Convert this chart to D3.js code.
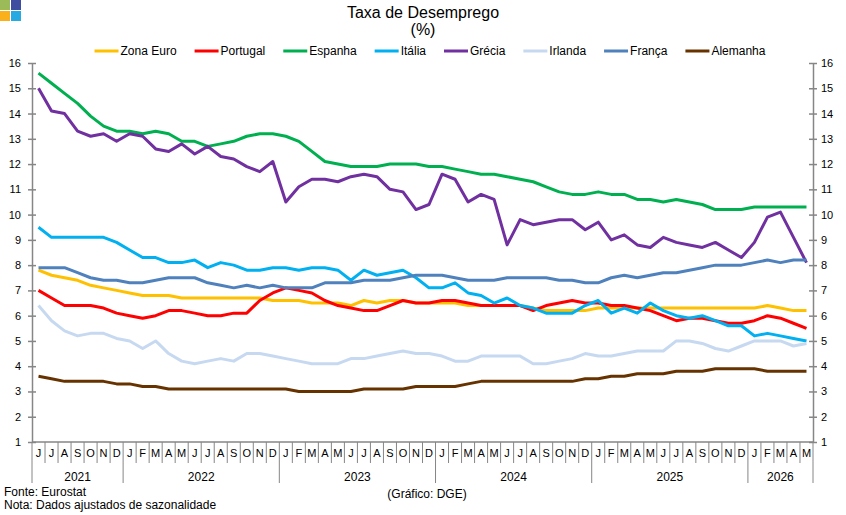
<!DOCTYPE html>
<html>
<head>
<meta charset="utf-8">
<script src="https://cdn.jsdelivr.net/npm/d3@7"></script>
<style>
  body { margin: 0; background: #fff; }
  text { font-family: "Liberation Sans", Arial, sans-serif; fill: #000; }
</style>
</head>
<body>
<svg id="chart" width="846" height="515"></svg>
<script>
// months: Jun 2021 .. May 2026
const years = [2021, 2022, 2023, 2024, 2025, 2026];
const monthLetters = ["J", "F", "M", "A", "M", "J", "J", "A", "S", "O", "N", "D"];
const firstMonth = 5; // June
const nMonths = 60;
const yTicks = [1, 2, 3, 4, 5, 6, 7, 8, 9, 10, 11, 12, 13, 14, 15, 16];

const zonaEuro = [7.8, 7.6, 7.5, 7.4, 7.2, 7.1, 7.0, 6.9, 6.8, 6.8, 6.8, 6.7, 6.7, 6.7, 6.7, 6.7, 6.7, 6.7, 6.6, 6.6,
  6.6, 6.5, 6.5, 6.5, 6.4, 6.6, 6.5, 6.6, 6.6, 6.5, 6.5, 6.5, 6.5, 6.4, 6.4, 6.4, 6.4, 6.4, 6.3, 6.2,
  6.2, 6.2, 6.2, 6.3, 6.3, 6.3, 6.3, 6.3, 6.3, 6.3, 6.3, 6.3, 6.3, 6.3, 6.3, 6.3, 6.4, 6.3, 6.2, 6.2];
const portugal = [7.0, 6.7, 6.4, 6.4, 6.4, 6.3, 6.1, 6.0, 5.9, 6.0, 6.2, 6.2, 6.1, 6.0, 6.0, 6.1, 6.1, 6.6, 6.9, 7.1,
  7.0, 6.9, 6.6, 6.4, 6.3, 6.2, 6.2, 6.4, 6.6, 6.5, 6.5, 6.6, 6.6, 6.5, 6.4, 6.4, 6.4, 6.4, 6.2, 6.4,
  6.5, 6.6, 6.5, 6.5, 6.4, 6.4, 6.3, 6.2, 6.0, 5.8, 5.9, 5.9, 5.8, 5.7, 5.7, 5.8, 6.0, 5.9, 5.7, 5.5];
const espanha = [15.6, 15.2, 14.8, 14.4, 13.9, 13.5, 13.3, 13.3, 13.2, 13.3, 13.2, 12.9, 12.9, 12.7, 12.8, 12.9, 13.1, 13.2, 13.2, 13.1,
  12.9, 12.5, 12.1, 12.0, 11.9, 11.9, 11.9, 12.0, 12.0, 12.0, 11.9, 11.9, 11.8, 11.7, 11.6, 11.6, 11.5, 11.4, 11.3, 11.1,
  10.9, 10.8, 10.8, 10.9, 10.8, 10.8, 10.6, 10.6, 10.5, 10.6, 10.5, 10.4, 10.2, 10.2, 10.2, 10.3, 10.3, 10.3, 10.3, 10.3];
const italia = [9.5, 9.1, 9.1, 9.1, 9.1, 9.1, 8.9, 8.6, 8.3, 8.3, 8.1, 8.1, 8.2, 7.9, 8.1, 8.0, 7.8, 7.8, 7.9, 7.9,
  7.8, 7.9, 7.9, 7.8, 7.4, 7.8, 7.6, 7.7, 7.8, 7.5, 7.1, 7.1, 7.3, 6.9, 6.8, 6.5, 6.7, 6.4, 6.3, 6.1,
  6.1, 6.1, 6.4, 6.6, 6.1, 6.3, 6.1, 6.5, 6.2, 6.0, 5.9, 6.0, 5.8, 5.6, 5.6, 5.2, 5.3, 5.2, 5.1, 5.0];
const grecia = [15.0, 14.1, 14.0, 13.3, 13.1, 13.2, 12.9, 13.2, 13.1, 12.6, 12.5, 12.8, 12.4, 12.7, 12.3, 12.2, 11.9, 11.7, 12.1, 10.5,
  11.1, 11.4, 11.4, 11.3, 11.5, 11.6, 11.5, 11.0, 10.9, 10.2, 10.4, 11.6, 11.4, 10.5, 10.8, 10.6, 8.8, 9.8, 9.6, 9.7,
  9.8, 9.8, 9.4, 9.7, 9.0, 9.2, 8.8, 8.7, 9.1, 8.9, 8.8, 8.7, 8.9, 8.6, 8.3, 8.9, 9.9, 10.1, 9.1, 8.1];
const irlanda = [6.4, 5.8, 5.4, 5.2, 5.3, 5.3, 5.1, 5.0, 4.7, 5.0, 4.5, 4.2, 4.1, 4.2, 4.3, 4.2, 4.5, 4.5, 4.4, 4.3,
  4.2, 4.1, 4.1, 4.1, 4.3, 4.3, 4.4, 4.5, 4.6, 4.5, 4.5, 4.4, 4.2, 4.2, 4.4, 4.4, 4.4, 4.4, 4.1, 4.1,
  4.2, 4.3, 4.5, 4.4, 4.4, 4.5, 4.6, 4.6, 4.6, 5.0, 5.0, 4.9, 4.7, 4.6, 4.8, 5.0, 5.0, 5.0, 4.8, 4.9];
const franca = [7.9, 7.9, 7.9, 7.7, 7.5, 7.4, 7.4, 7.3, 7.3, 7.4, 7.5, 7.5, 7.5, 7.3, 7.2, 7.1, 7.2, 7.1, 7.2, 7.1,
  7.1, 7.1, 7.3, 7.3, 7.3, 7.4, 7.4, 7.4, 7.5, 7.6, 7.6, 7.6, 7.5, 7.4, 7.4, 7.4, 7.5, 7.5, 7.5, 7.5,
  7.4, 7.4, 7.3, 7.3, 7.5, 7.6, 7.5, 7.6, 7.7, 7.7, 7.8, 7.9, 8.0, 8.0, 8.0, 8.1, 8.2, 8.1, 8.2, 8.2];
const alemanha = [3.6, 3.5, 3.4, 3.4, 3.4, 3.4, 3.3, 3.3, 3.2, 3.2, 3.1, 3.1, 3.1, 3.1, 3.1, 3.1, 3.1, 3.1, 3.1, 3.1,
  3.0, 3.0, 3.0, 3.0, 3.0, 3.1, 3.1, 3.1, 3.1, 3.2, 3.2, 3.2, 3.2, 3.3, 3.4, 3.4, 3.4, 3.4, 3.4, 3.4,
  3.4, 3.4, 3.5, 3.5, 3.6, 3.6, 3.7, 3.7, 3.7, 3.8, 3.8, 3.8, 3.9, 3.9, 3.9, 3.9, 3.8, 3.8, 3.8, 3.8];

const series = [
  { name: "Zona Euro", color: "#FFC000", values: zonaEuro },
  { name: "Portugal", color: "#FF0000", values: portugal },
  { name: "Espanha", color: "#00B050", values: espanha },
  { name: "Itália", color: "#00B0F0", values: italia },
  { name: "Grécia", color: "#7030A0", values: grecia },
  { name: "Irlanda", color: "#C6D9F1", values: irlanda },
  { name: "França", color: "#4F81BD", values: franca },
  { name: "Alemanha", color: "#663300", values: alemanha }
];

const periods = d3.range(nMonths).map(i => ({
  i: i,
  month: (firstMonth + i) % 12,
  year: years[0] + Math.floor((firstMonth + i) / 12)
}));

const svg = d3.select("#chart");
const plotLeft = 32, plotRight = 813, plotTop = 63, plotBottom = 442;
const axisColor = "#868686";

const x = d3.scaleBand().domain(d3.range(nMonths)).range([plotLeft, plotRight]);
const y = d3.scaleLinear().domain([1, 16]).range([plotBottom, plotTop]);
const cx = i => x(i) + x.bandwidth() / 2;

// logo
const logo = [["#9BBB59", 0, 0], ["#3F4DA0", 11, 0], ["#FAB01A", 0, 11], ["#27AAE1", 11, 11]];
svg.selectAll("rect.logo").data(logo).join("rect")
  .attr("x", d => d[1]).attr("y", d => d[2])
  .attr("width", 10).attr("height", 10)
  .attr("fill", d => d[0]);

// title
svg.append("text").attr("x", 423).attr("y", 18).attr("text-anchor", "middle")
  .style("font-size", "16px").text("Taxa de Desemprego");
svg.append("text").attr("x", 423).attr("y", 35).attr("text-anchor", "middle")
  .style("font-size", "16px").text("(%)");

// y axes
const yl = svg.append("g").attr("transform", `translate(${plotLeft},0)`)
  .call(d3.axisLeft(y).tickValues(yTicks).tickSize(4).tickSizeOuter(0).tickPadding(7));
const yr = svg.append("g").attr("transform", `translate(${plotRight},0)`)
  .call(d3.axisRight(y).tickValues(yTicks).tickSize(4).tickSizeOuter(0).tickPadding(4));
[yl, yr].forEach(g => {
  g.select(".domain").attr("stroke", axisColor).attr("stroke-width", 1.5);
  g.selectAll(".tick line").attr("stroke", axisColor).attr("stroke-width", 1.5)
    .attr("x1", -4).attr("x2", 4);
  g.selectAll(".tick text").style("font-size", "11px")
    .style("font-family", "'Liberation Sans', Arial, sans-serif").attr("fill", "#000");
});

// category axis
const catG = svg.append("g");
catG.append("line").attr("x1", plotLeft).attr("x2", plotRight).attr("y1", plotBottom).attr("y2", plotBottom)
  .attr("stroke", axisColor).attr("stroke-width", 1.5);
const edges = d3.range(nMonths + 1);
catG.selectAll("line.div").data(edges).join("line")
  .attr("class", "div")
  .attr("x1", i => plotLeft + i * x.step()).attr("x2", i => plotLeft + i * x.step())
  .attr("y1", plotBottom)
  .attr("y2", i => (i === 0 || i === nMonths || periods[i].month === 0) ? 483 : 463)
  .attr("stroke", axisColor).attr("stroke-width", 1);
catG.selectAll("text.m").data(periods).join("text")
  .attr("class", "m")
  .attr("x", d => cx(d.i)).attr("y", 457)
  .attr("text-anchor", "middle").style("font-size", "11px")
  .text(d => monthLetters[d.month]);
const yearGroups = d3.groups(periods, d => d.year);
catG.selectAll("text.yr").data(yearGroups).join("text")
  .attr("class", "yr")
  .attr("x", d => (cx(d[1][0].i) + cx(d[1][d[1].length - 1].i)) / 2)
  .attr("y", 481)
  .attr("text-anchor", "middle").style("font-size", "12px")
  .text(d => d[0]);

// lines
const line = d3.line().x((d, i) => cx(i)).y(d => y(d));
svg.append("g").selectAll("path").data(series).join("path")
  .attr("fill", "none")
  .attr("stroke", d => d.color)
  .attr("stroke-width", 3)
  .attr("stroke-linejoin", "round")
  .attr("d", d => line(d.values));

// legend
const leg = svg.append("g");
let lx = 0;
series.forEach(s => {
  const g = leg.append("g").attr("transform", `translate(${lx},0)`);
  g.append("line").attr("x1", 0).attr("x2", 24).attr("y1", 0).attr("y2", 0)
    .attr("stroke", s.color).attr("stroke-width", 3);
  const t = g.append("text").attr("x", 26).attr("y", 4).style("font-size", "12px").text(s.name);
  lx += 26 + t.node().getComputedTextLength() + 18;
});
const legW = lx - 18;
leg.attr("transform", `translate(${430 - legW / 2},51)`);

// footer
svg.append("text").attr("x", 4).attr("y", 496).style("font-size", "12px").text("Fonte: Eurostat");
svg.append("text").attr("x", 4).attr("y", 509).style("font-size", "12px").text("Nota: Dados ajustados de sazonalidade");
svg.append("text").attr("x", 427).attr("y", 498).attr("text-anchor", "middle").style("font-size", "12px").text("(Gráfico: DGE)");
</script>
</body>
</html>
